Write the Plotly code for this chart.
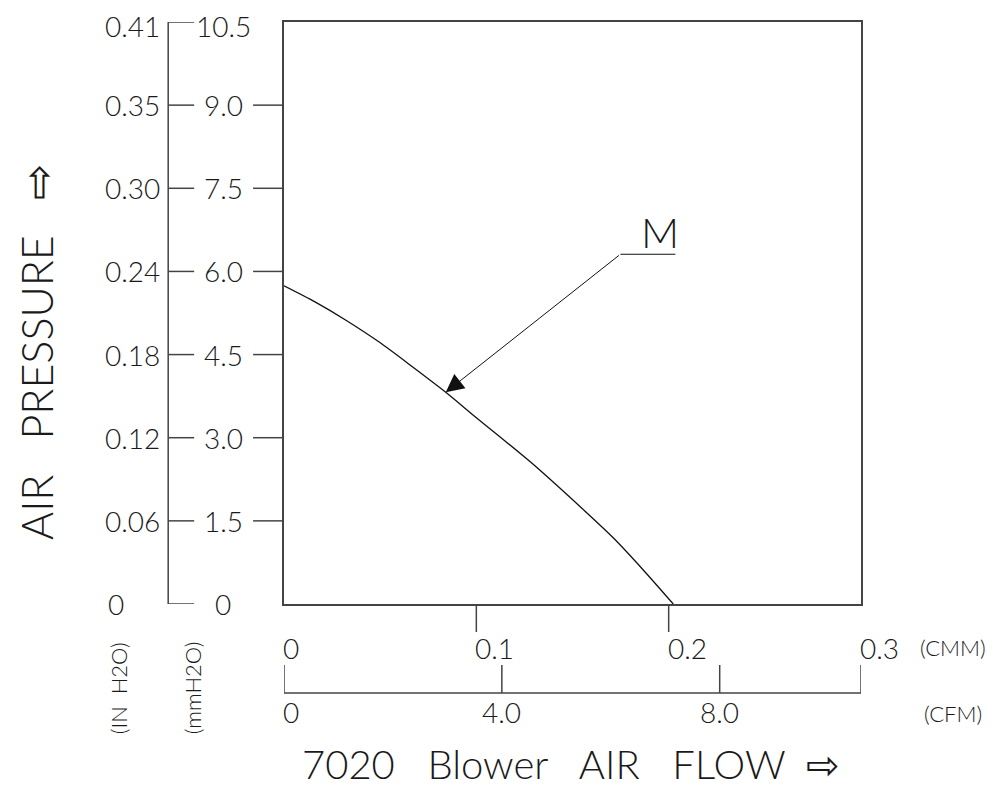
import plotly.graph_objects as go

# ---------------- data ----------------
flow_cmm = [0.0, 0.0161, 0.0322, 0.0493, 0.0664, 0.0841, 0.0997, 0.1282, 0.1557, 0.1713, 0.1869, 0.2024]
pressure_mmh2o = [5.74, 5.45, 5.12, 4.73, 4.29, 3.82, 3.37, 2.56, 1.70, 1.19, 0.61, 0.0]

mm_ticks = [0, 1.5, 3.0, 4.5, 6.0, 7.5, 9.0, 10.5]
mm_labels = ["0", "1.5", "3.0", "4.5", "6.0", "7.5", "9.0", "10.5"]
inh2o_labels = ["0", "0.06", "0.12", "0.18", "0.24", "0.30", "0.35", "0.41"]

cmm_ticks = [0, 0.1, 0.2, 0.3]
cmm_labels = ["0", "0.1", "0.2", "0.3"]
cfm_ticks = [0, 4.0, 8.0]
cfm_labels = ["0", "4.0", "8.0"]

CMM_MAX = 0.3
MM_MAX = 10.5
CFM_PER_CMM = 35.3147
CFM_MAX = CMM_MAX * CFM_PER_CMM

curve_label = "M"
x_title = "7020   Blower   AIR   FLOW  \u21e8"
y_title = "AIR   PRESSURE   \u21e8"

# ---------------- style ----------------
FONT = "Lato"
TXT = "#1a1a1a"
LINE = "#444444"
W = 978
H = 781
L, R, T, B = 276, 125, 14, 185

def font(size):
    return dict(family=FONT, size=size, color=TXT, weight=300)

fig = go.Figure()
fig.add_trace(go.Scatter(
    x=flow_cmm, y=pressure_mmh2o, mode="lines",
    line=dict(color="#111111", width=1.3, shape="spline", smoothing=0.8),
    showlegend=False, hoverinfo="skip"))
fig.add_trace(go.Scatter(x=[], y=[], xaxis="x2", showlegend=False))

shapes = []
annotations = []

# ---- left double axis ----
AX_X = -0.2007
TICK_END = -0.1557
for i, v in enumerate(mm_ticks):
    shapes.append(dict(type="line", xref="paper", yref="y", x0=AX_X, x1=TICK_END,
                       y0=v, y1=v, line=dict(color=LINE, width=1.5)))
    if 0 < v < MM_MAX:
        shapes.append(dict(type="line", xref="paper", yref="y", x0=-0.0536, x1=0,
                           y0=v, y1=v, line=dict(color=LINE, width=1.5)))
    ys = -4 if v == MM_MAX else 0
    annotations.append(dict(xref="paper", yref="y", x=-0.1055, y=v, yshift=ys, text=mm_labels[i],
                            showarrow=False, xanchor="center", yanchor="middle",
                            font=font(28)))
    if v == 0:
        annotations.append(dict(xref="paper", yref="y", x=-0.2907, y=v, text=inh2o_labels[i],
                                showarrow=False, xanchor="center", yanchor="middle",
                                font=font(28)))
    else:
        annotations.append(dict(xref="paper", yref="y", x=-0.2111, y=v, yshift=ys,
                                text=inh2o_labels[i],
                                showarrow=False, xanchor="right", yanchor="middle",
                                font=font(28)))
shapes.append(dict(type="line", xref="paper", yref="y", x0=AX_X, x1=AX_X,
                   y0=0, y1=MM_MAX, line=dict(color=LINE, width=1.5)))

# ---- bottom CMM ticks ----
for i, v in enumerate(cmm_ticks):
    if 0 < v < CMM_MAX:
        shapes.append(dict(type="line", xref="x", yref="paper", x0=v, x1=v,
                           y0=0, y1=-0.0481, line=dict(color=LINE, width=1.5)))
    annotations.append(dict(xref="x", yref="paper", x=v, y=-0.0756, text=cmm_labels[i],
                            showarrow=False, xanchor="left", yanchor="middle", xshift=-3,
                            font=font(28)))
annotations.append(dict(xref="paper", yref="paper", x=1.159, y=-0.0756, text="(CMM)",
                        showarrow=False, xanchor="center", yanchor="middle", font=font(22)))

# ---- bottom CFM axis ----
shapes.append(dict(type="line", xref="x2", yref="paper", x0=0, x1=CFM_MAX,
                   y0=-0.1529, y1=-0.1529, line=dict(color=LINE, width=1.5)))
for v in cfm_ticks + [CFM_MAX]:
    shapes.append(dict(type="line", xref="x2", yref="paper", x0=v, x1=v,
                       y0=-0.1529, y1=-0.1048, line=dict(color=LINE, width=1.5)))
for i, v in enumerate(cfm_ticks):
    annotations.append(dict(xref="x2", yref="paper", x=v, y=-0.1856, text=cfm_labels[i],
                            showarrow=False, xanchor="left" if v == 0 else "center",
                            xshift=-3 if v == 0 else 0,
                            yanchor="middle", font=font(28)))
annotations.append(dict(xref="paper", yref="paper", x=1.159, y=-0.189, text="(CFM)",
                        showarrow=False, xanchor="center", yanchor="middle", font=font(22)))

# ---- unit labels ----
annotations.append(dict(xref="paper", yref="paper", x=-0.2855, y=-0.1443, text="(IN  H2O)",
                        textangle=-90, showarrow=False, xanchor="center", yanchor="middle",
                        font=font(22)))
annotations.append(dict(xref="paper", yref="paper", x=-0.1574, y=-0.1443, text="(mmH2O)",
                        textangle=-90, showarrow=False, xanchor="center", yanchor="middle",
                        font=font(22)))

# ---- titles ----
annotations.append(dict(xref="paper", yref="paper", x=0.497, y=-0.2748, text=x_title,
                        showarrow=False, xanchor="center", yanchor="middle", font=font(40)))
annotations.append(dict(xref="paper", yref="paper", x=-0.428, y=0.433, text=y_title,
                        textangle=-90, showarrow=False, xanchor="center", yanchor="middle",
                        font=font(43)))

# ---- curve label M with leader ----
annotations.append(dict(xref="x", yref="y", x=0.0841, y=3.82, ax=0.1749, ay=6.31,
                        axref="x", ayref="y", text="", showarrow=True,
                        arrowhead=2, arrowsize=3.6, arrowwidth=1, arrowcolor="#111111"))
shapes.append(dict(type="line", xref="x", yref="y", x0=0.1749, x1=0.2035, y0=6.31, y1=6.31,
                   line=dict(color="#111111", width=1)))
annotations.append(dict(xref="x", yref="y", x=0.1957, y=6.72, text=curve_label,
                        showarrow=False, xanchor="center", yanchor="middle", font=font(42)))

fig.update_layout(
    width=W, height=H,
    margin=dict(l=L, r=R, t=T, b=B, pad=0),
    paper_bgcolor="white", plot_bgcolor="white",
    showlegend=False,
    xaxis=dict(range=[0, CMM_MAX], showgrid=False, zeroline=False, showticklabels=False,
               ticks="", showline=True, mirror=True, linecolor=LINE, linewidth=1.5,
               fixedrange=True),
    xaxis2=dict(range=[0, CFM_MAX], overlaying="x", visible=False, fixedrange=True),
    yaxis=dict(range=[0, MM_MAX], showgrid=False, zeroline=False, showticklabels=False,
               ticks="", showline=True, mirror=True, linecolor=LINE, linewidth=1.5,
               fixedrange=True),
    shapes=shapes,
    annotations=annotations,
)

fig.write_html("out.html")
